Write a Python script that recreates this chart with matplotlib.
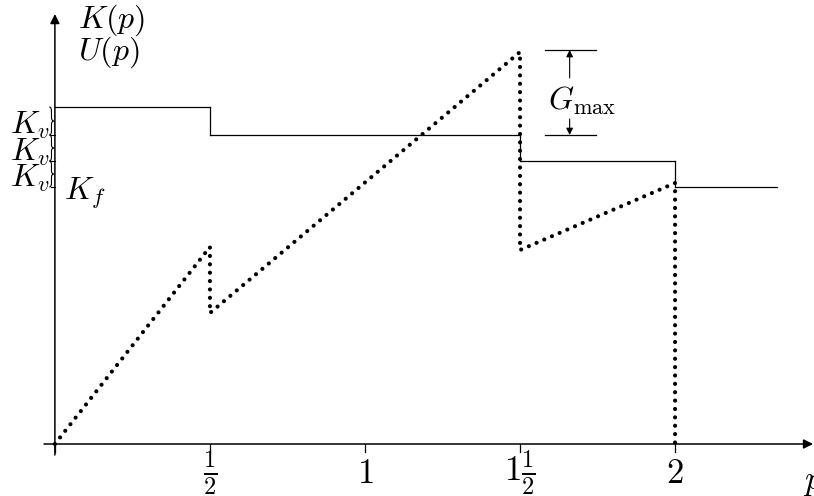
import numpy as np
import matplotlib.pyplot as plt
from matplotlib.path import Path
from matplotlib.patches import PathPatch

plt.rcParams["mathtext.fontset"] = "cm"
plt.rcParams["font.family"] = ["DejaVu Serif"]

# =========================
# DATA
# =========================
# step function K(p)
k_edges = [0, 0.5, 1.5, 2.0, 2.33]
k_levels = [3.37, 3.09, 2.83, 2.57]

# dotted U(p)
u_x = [0, 0.5, 0.5, 1.5, 1.5, 2.0, 2.0]
u_y = [0, 1.97, 1.31, 3.92, 1.94, 2.61, 0]

tick_pos = [0.5, 1.0, 1.5, 2.0]
tick_labels = [r"$\frac{1}{2}$", r"$1$", r"$1\frac{1}{2}$", r"$2$"]

g_top = 3.94
g_bottom = k_levels[1]

FS = 23
TFS = 25

# =========================
# FIGURE
# =========================
fig = plt.figure(figsize=(8.14, 4.96), dpi=100)
ax = fig.add_axes([0, 0, 1, 1])
ax.set_xlim(-0.177, 2.448)
ax.set_ylim(-0.52, 4.44)
ax.axis("off")

# axes with arrows
ax.annotate("", xy=(2.445, 0), xytext=(-0.035, 0), annotation_clip=False,
            arrowprops=dict(arrowstyle="-|>", lw=1.1, color="black",
                            mutation_scale=14, shrinkA=0, shrinkB=0))
ax.annotate("", xy=(0, 4.30), xytext=(0, -0.11), annotation_clip=False,
            arrowprops=dict(arrowstyle="-|>", lw=1.1, color="black",
                            mutation_scale=14, shrinkA=0, shrinkB=0))
for t in [0] + tick_pos:
    ax.plot([t, t], [0, -0.08], color="black", lw=0.9)
for t, lab in zip(tick_pos, tick_labels):
    ax.text(t, -0.29, lab, fontsize=TFS, ha="center", va="center")
ax.text(2.413, -0.37, r"$p$", fontsize=TFS, ha="left", va="center")

# K(p) steps
for i, lev in enumerate(k_levels):
    ax.plot([k_edges[i], k_edges[i + 1]], [lev, lev], color="black", lw=0.9)
    if i > 0:
        ax.plot([k_edges[i], k_edges[i]], [k_levels[i - 1], lev],
                color="black", lw=0.9)

# U(p) dotted
ax.plot(u_x, u_y, color="black", lw=3.0,
        linestyle=(0, (0.01, 2.0)), dash_capstyle="round")

# axis labels
ax.text(0.075, 4.24, r"$K(p)$", fontsize=FS, ha="left", va="center")
ax.text(0.075, 3.92, r"$U(p)$", fontsize=FS, ha="left", va="center")


# braces
def brace(x, y0, y1, w):
    ym = (y0 + y1) / 2
    h = y1 - y0
    xm = x + w / 2
    verts = [(x, y1),
             (xm, y1), (xm, y1 - h * 0.15),
             (xm, ym + h * 0.12),
             (xm, ym), (x + w, ym),
             (xm, ym), (xm, ym - h * 0.12),
             (xm, y0 + h * 0.15),
             (xm, y0), (x, y0)]
    codes = [Path.MOVETO,
             Path.CURVE3, Path.CURVE3,
             Path.LINETO,
             Path.CURVE3, Path.CURVE3,
             Path.CURVE3, Path.CURVE3,
             Path.LINETO,
             Path.CURVE3, Path.CURVE3]
    ax.add_patch(PathPatch(Path(verts, codes), fill=False, lw=0.8,
                           edgecolor="black"))


for i in range(3):
    brace(-0.018, k_levels[i + 1], k_levels[i], 0.014)
    ax.plot([-0.012, 0], [k_levels[i + 1]] * 2, color="black", lw=0.8)
    ax.text(-0.018, (k_levels[i] + k_levels[i + 1]) / 2 - 0.04, r"$K_v$",
            fontsize=FS, ha="right", va="center")
ax.text(0.03, k_levels[3] - 0.06, r"$K_f$", fontsize=FS, ha="left", va="center")

# G_max marker
ax.plot([1.58, 1.745], [g_top, g_top], color="black", lw=0.9)
ax.plot([1.58, 1.745], [g_bottom, g_bottom], color="black", lw=0.9)
ax.annotate("", xy=(1.66, g_top), xytext=(1.66, 3.66),
            arrowprops=dict(arrowstyle="-|>", lw=0.8, color="black",
                            mutation_scale=10, shrinkA=0, shrinkB=0))
ax.annotate("", xy=(1.66, g_bottom), xytext=(1.66, 3.25),
            arrowprops=dict(arrowstyle="-|>", lw=0.8, color="black",
                            mutation_scale=10, shrinkA=0, shrinkB=0))
ax.text(1.70, 3.43, r"$G_{\max}$", fontsize=FS, ha="center", va="center")

fig.savefig("out.png", dpi=100)
